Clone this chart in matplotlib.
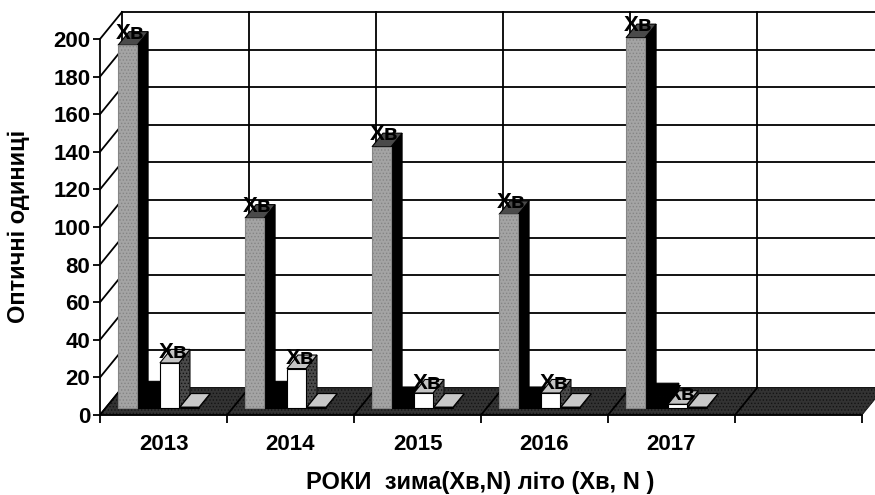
'''
plot.py
Scanned Excel style 3D column chart, rebuilt from oblique polygons.
'''
import matplotlib
matplotlib.use('Agg')
import matplotlib.pyplot as plt
from matplotlib.patches import Polygon

plt.rcParams['font.family'] = ['Liberation Sans', 'DejaVu Sans']
plt.rcParams['hatch.linewidth'] = 0.6

# values
years       = ['2013', '2014', '2015', '2016', '2017']
gray_vals   = [193, 101, 139, 103, 197]
black_vals  = [7, 7, 4, 4, 6]
white_vals  = [24, 21, 8, 8, 2]
pale_vals   = [0.5, 0.5, 0.5, 0.5, 0.5]
y_ticks     = list(range(0, 201, 20))
bar_label   = 'Хв'

# oblique depth in data units (1 category = 127 px, 20 units = 37.6 px)
WallDx, WallDy  = 22/127., 27/1.88
BarDx, BarDy    = 11/127., 7.2
Base            = 3.7       # front of the bars sits a bit behind the front edge
XMax            = 6
LineW           = 1.3

fig = plt.figure(figsize=(8.75, 4.95), dpi=100)
ax  = fig.add_axes([100/875., 80/495., 762/875., 376/495.])
ax.set_xlim(0, XMax)
ax.set_ylim(0, 200)

def poly(pts, fc, ec='black', lw=0.8, hatch=None, z=2):
    ax.add_patch(Polygon(pts, closed=True, facecolor=fc, edgecolor=ec,
                         linewidth=lw, hatch=hatch, zorder=z, clip_on=False))

def bar3d(x0, w, h, front, side, top, hatch=None, z=3, ec='black'):
    x1 = x0 + w
    y0 = Base
    y1 = Base + h
    poly([(x1, y0), (x1+BarDx, y0+BarDy), (x1+BarDx, y1+BarDy), (x1, y1)],
         side[0], ec=side[1], hatch=side[2], z=z)
    poly([(x0, y1), (x1, y1), (x1+BarDx, y1+BarDy), (x0+BarDx, y1+BarDy)],
         top, z=z)
    poly([(x0, y0), (x1, y0), (x1, y1), (x0, y1)], front, ec=ec, hatch=hatch, z=z)

# back wall and side wall grid
for v in y_ticks:
    ax.plot([WallDx, XMax+WallDx], [v+WallDy, v+WallDy], color='black', lw=LineW,
            zorder=1, clip_on=False)
    ax.plot([0, WallDx], [v, v+WallDy], color='black', lw=LineW, zorder=1, clip_on=False)
for i in range(XMax+1):
    ax.plot([i+WallDx, i+WallDx], [WallDy, 200+WallDy], color='black', lw=LineW,
            zorder=1, clip_on=False)

# floor
poly([(0, 0), (XMax, 0), (XMax+WallDx, WallDy), (WallDx, WallDy)], '#333333',
     ec='#141414', lw=0.6, hatch='.....', z=1.5)
for i in range(XMax+1):
    ax.plot([i, i+WallDx], [0, WallDy], color='black', lw=LineW, zorder=1.6)

dark_side   = ('#4a4a4a', '#111111', '.....')
black_side  = ('black', 'black', None)

for i in range(len(years)):
    # black low bar first, the tall gray one stands in front of it
    bar3d(i+0.291, 0.18, black_vals[i], 'black', black_side, 'black', z=3)
    bar3d(i+0.142, 0.15, gray_vals[i], '#a4a4a4', black_side, '#4a4a4a',
          hatch='.....', z=3.1, ec='#858585')
    bar3d(i+0.472, 0.15, white_vals[i], 'white', dark_side, '#c4c4c4', z=3.2)
    bar3d(i+0.63, 0.15, pale_vals[i], '#d0d0d0', dark_side, '#c8c8c8', z=3.3)

    ax.annotate(bar_label, (i+0.216, gray_vals[i]+Base), xytext=(3, 12),
                textcoords='offset pixels', ha='center', va='center',
                fontsize=16, fontweight='bold', zorder=5, annotation_clip=False)
    ax.annotate(bar_label, (i+0.547, white_vals[i]+Base), xytext=(4, 10),
                textcoords='offset pixels', ha='center', va='center',
                fontsize=16, fontweight='bold', zorder=5, annotation_clip=False)

# axes furniture
for s in ['top', 'right']:
    ax.spines[s].set_visible(False)
ax.spines['left'].set_linewidth(LineW)
ax.spines['bottom'].set_linewidth(LineW)
ax.patch.set_visible(False)
ax.set_yticks(y_ticks)
ax.set_xticks(range(XMax+1))
ax.set_xticklabels([])
ax.set_xticks([i+0.5 for i in range(len(years))], minor=True)
ax.set_xticklabels(years, minor=True, fontsize=16, fontweight='bold')
ax.tick_params(axis='x', which='minor', length=0, pad=14)
ax.tick_params(axis='x', which='major', length=6, width=LineW)
ax.tick_params(axis='y', length=5, width=LineW, pad=2, labelsize=16)
for t in ax.get_yticklabels():
    t.set_fontweight('bold')

fig.text(480/875., 1-483/495., 'РОКИ  зима(Хв,N) літо (Хв, N )', ha='center',
         va='center', fontsize=17, fontweight='bold')
fig.text(19/875., 1-226.5/495., 'Оптичні одиниці', rotation=90, ha='center',
         va='center', fontsize=17, fontweight='bold')

fig.savefig('out.png', dpi=100)
